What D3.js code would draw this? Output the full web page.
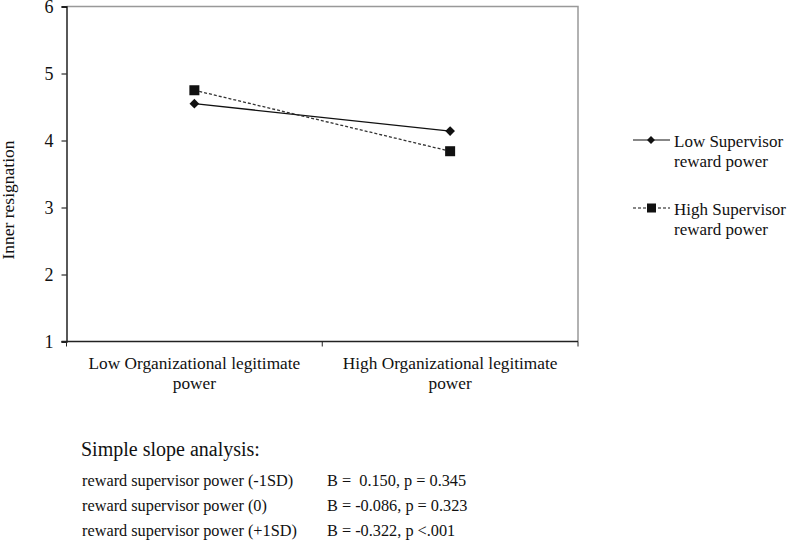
<!DOCTYPE html>
<html><head><meta charset="utf-8">
<script src="https://cdn.jsdelivr.net/npm/d3@7"></script>
<style>body{margin:0;background:#fff}svg text{font-family:'Liberation Serif','Times New Roman',Times,'DejaVu Serif',serif}</style>
</head><body>
<svg id="c" width="787" height="548"></svg>
<script>
const categories = [["Low Organizational legitimate","power"],["High Organizational legitimate","power"]];
const seriesNames = [["Low Supervisor","reward power"],["High Supervisor","reward power"]];
const lowSupervisor = [4.55, 4.14];
const highSupervisor = [4.75, 3.84];
const yTicks = [1,2,3,4,5,6];
const slopeTitle = "Simple slope analysis:";
const slopeLabels = ["reward supervisor power (-1SD)","reward supervisor power (0)","reward supervisor power (+1SD)"];
const slopeStats = ["B =  0.150, p = 0.345","B = -0.086, p = 0.323","B = -0.322, p <.001"];

const FONT = "'Liberation Serif','Times New Roman',Times,serif";
const svg = d3.select("#c");
const L=66.5, R=578, T=6.5, B=341.5;
const x = d3.scaleBand().domain([0,1]).range([L,R]);
const y = d3.scaleLinear().domain([1,6]).range([B,T]);

// frame
svg.append("path").attr("d",`M${L},${T}H${R}V${B}`).attr("fill","none").attr("stroke","#999").attr("stroke-width",1.5);

// y axis
const ya = svg.append("g").attr("transform",`translate(${L},0)`).call(d3.axisLeft(y).tickValues(yTicks).tickSize(5).tickPadding(8).tickFormat(d3.format("d")));
ya.attr("font-family",FONT);
ya.select(".domain").attr("stroke","#000").attr("stroke-width",1.3);
ya.selectAll("line").attr("stroke","#000");
ya.selectAll("text").attr("font-size",18).attr("font-family",FONT).attr("fill","#111");

// x axis
const xa = svg.append("g").attr("transform",`translate(0,${B})`);
xa.append("line").attr("x1",L-5).attr("x2",R).attr("stroke","#222").attr("stroke-width",1.3);
[L, L+x.bandwidth(), R].forEach(t=>xa.append("line").attr("x1",t).attr("x2",t).attr("y1",0).attr("y2",5).attr("stroke","#222"));
categories.forEach((c,i)=>{
  const t = xa.append("text").attr("text-anchor","middle").attr("font-family",FONT).attr("font-size",17.3).attr("fill","#111");
  c.forEach((s,j)=>t.append("tspan").attr("x",x(i)+x.bandwidth()/2).attr("y",27+j*20).text(s));
});

// y title
svg.append("text").attr("transform","translate(14,200) rotate(-90)").attr("text-anchor","middle").attr("font-family",FONT).attr("font-size",17.5).attr("fill","#111").text("Inner resignation");

const cx = i=>x(i)+x.bandwidth()/2;
const line = d3.line().x((d,i)=>cx(i)).y(d=>y(d));
svg.append("path").datum(lowSupervisor).attr("d",line).attr("fill","none").attr("stroke","#111").attr("stroke-width",1.3);
svg.append("path").datum(highSupervisor).attr("d",line).attr("fill","none").attr("stroke","#333").attr("stroke-width",1.3).attr("stroke-dasharray","3,2");
const dia = d3.symbol().type(d3.symbolDiamond2).size(60);
svg.selectAll(".d").data(lowSupervisor).join("path").attr("transform",(d,i)=>`translate(${cx(i)},${y(d)})`).attr("d",dia).attr("fill","#111");
svg.selectAll(".s").data(highSupervisor).join("rect").attr("x",(d,i)=>cx(i)-5).attr("y",d=>y(d)-5).attr("width",10).attr("height",10).attr("fill","#111");

// legend
const lg = [{y:140,dash:null},{y:208,dash:"3,2"}];
lg.forEach((o,i)=>{
  svg.append("line").attr("x1",633).attr("x2",670).attr("y1",o.y).attr("y2",o.y).attr("stroke","#111").attr("stroke-width",1.2).attr("stroke-dasharray",o.dash);
  if(i===0) svg.append("path").attr("transform",`translate(651,${o.y})`).attr("d",d3.symbol().type(d3.symbolDiamond2).size(40)).attr("fill","#111");
  else svg.append("rect").attr("x",647).attr("y",o.y-4.5).attr("width",9).attr("height",9).attr("fill","#111");
  const t = svg.append("text").attr("font-family",FONT).attr("font-size",17).attr("fill","#111");
  seriesNames[i].forEach((s,j)=>t.append("tspan").attr("x",674).attr("y",o.y+7+j*20).text(s));
});

// slope analysis
svg.append("text").attr("x",81).attr("y",456).attr("font-family",FONT).attr("font-size",20).attr("fill","#111").text(slopeTitle);
slopeLabels.forEach((s,i)=>{
  svg.append("text").attr("x",82).attr("y",486+i*25).attr("font-family",FONT).attr("font-size",16.3).attr("fill","#111").text(s);
  svg.append("text").attr("x",327).attr("y",486+i*25).attr("font-family",FONT).attr("font-size",16.3).attr("fill","#111").style("white-space","pre").text(slopeStats[i]);
});
</script>
</body></html>
